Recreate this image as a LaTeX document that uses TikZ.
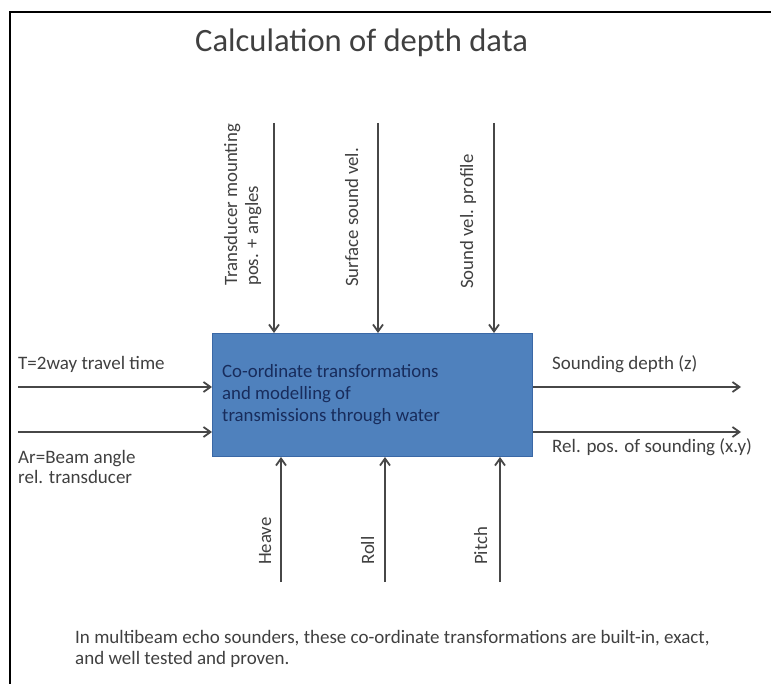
\documentclass[tikz,border=0pt]{standalone}
\usepackage{fontspec}
\setmainfont{Carlito}
\usepackage{xcolor}
\usetikzlibrary{arrows.meta}
\usetikzlibrary{math}
\definecolor{myblue}{RGB}{79,129,189}
\definecolor{myedge}{RGB}{58,104,166}
\definecolor{mygray}{RGB}{64,64,64}
\definecolor{mynavy}{RGB}{24,44,92}

\tikzset{
 flow/.style={-{Straight Barb[length=7pt,width=10pt]}, line width=1.8pt, color=black!72},
 lbl/.style={text=mygray, inner sep=0pt, font=\fontsize{19}{20}\selectfont},
 vlbl/.style={lbl, rotate=90, anchor=base west, align=left, font=\fontsize{18.8}{21}\selectfont},
}

\begin{document}
\begin{tikzpicture}[x=1pt, y=-1pt]
\tikzmath{
 \xl = 212; \xr = 532; \yt = 333; \yb = 456;
 \ya = 387; \yc = 432;
}
\useasboundingbox (0,0) rectangle (771,684);

 %frame
 \draw[line width=2pt] (10,684) -- (10,12) -- (771,12);

 %title
 \node[lbl, anchor=base west, font=\fontsize{32.6}{36}\selectfont] (title) at (195,52) {Calculation of depth data};

 %block (anchors of multi-line text sit on the last line)
 \node[draw=myedge, line width=1pt, fill=myblue, anchor=north west, inner sep=0pt,
  minimum width={\xr-\xl}, minimum height={\yb-\yt}] (calc) at (\xl,\yt) {};
 \node[lbl, anchor=base west, align=left, text=mynavy, font=\fontsize{18.8}{22}\selectfont] (calctext) at (222,421)
  {Co-ordinate transformations\\and modelling of\\transmissions through water};

 %inputs from above
 \coordinate (mount) at (274,123);
 \coordinate (surf) at (378,123);
 \coordinate (prof) at (494,123);
 \draw[flow] (mount) -- (mount |- calc.north);
 \draw[flow] (surf) -- (surf |- calc.north);
 \draw[flow] (prof) -- (prof |- calc.north);
 \node[vlbl] (mountlbl) at (258,286) {Transducer mounting\\pos. + angles};
 \node[vlbl] (surflbl) at (358,287) {Surface sound vel.};
 \node[vlbl] (proflbl) at (473,289) {Sound vel. profile};

 %inputs from the left
 \coordinate (twt) at (18,\ya);
 \coordinate (beam) at (18,\yc);
 \draw[flow] (twt) -- (twt -| calc.west);
 \draw[flow] (beam) -- (beam -| calc.west);
 \node[lbl, anchor=base west] (twtlbl) at (18,370) {T=2way travel time};
 \node[lbl, anchor=base west, align=left] (beamlbl) at (18,483) {Ar=Beam angle\\rel. transducer};

 %outputs
 \coordinate (depth) at (741,\ya);
 \coordinate (relpos) at (741,\yc);
 \draw[flow] (depth -| calc.east) -- (depth);
 \draw[flow] (relpos -| calc.east) -- (relpos);
 \node[lbl, anchor=base west] (depthlbl) at (552,370) {Sounding depth (z)};
 \node[lbl, anchor=base west] (relposlbl) at (552,452) {Rel. pos. of sounding (x.y)};

 %motion inputs from below
 \coordinate (heave) at (281,582);
 \coordinate (roll) at (385,582);
 \coordinate (pitch) at (500,582);
 \draw[flow] (heave) -- (heave |- calc.south);
 \draw[flow] (roll) -- (roll |- calc.south);
 \draw[flow] (pitch) -- (pitch |- calc.south);
 \node[vlbl] (heavelbl) at (271,565) {Heave};
 \node[vlbl] (rolllbl) at (374,565) {Roll};
 \node[vlbl] (pitchlbl) at (487,565) {Pitch};

 %note
 \node[lbl, anchor=base west, align=left, font=\fontsize{19}{21}\selectfont] (note) at (75,664)
  {In multibeam echo sounders, these co-ordinate transformations are built-in, exact,\\and well tested and proven.};
\end{tikzpicture}
\end{document}
